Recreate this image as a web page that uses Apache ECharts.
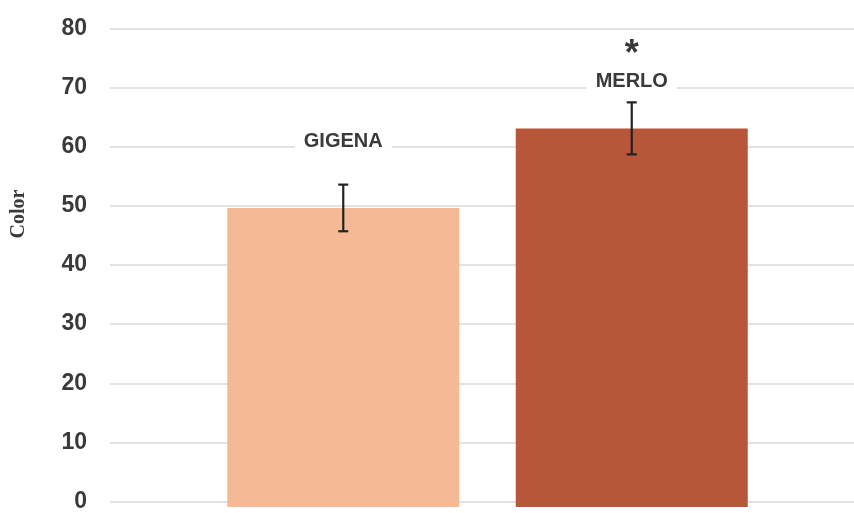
<!DOCTYPE html>
<html>
<head>
<meta charset="utf-8">
<script src="https://cdn.jsdelivr.net/npm/echarts@6/dist/echarts.min.js"></script>
<style>
  html, body { margin: 0; padding: 0; background: #ffffff; }
  #chart { width: 854px; height: 513px; }
</style>
</head>
<body>
<div id="chart"></div>
<script>
// Colour scores per site: mean and error (half-length of the whisker)
const categories = ['GIGENA', 'MERLO'];
const means = [50.0, 63.3];
const errors = [3.9, 4.35];
const significance = ['', '*'];
const yTicks = [0, 10, 20, 30, 40, 50, 60, 70, 80];
const yTitle = 'Color';

// Styling
const barColors = ['#f6b996', '#b8563a'];
const inkColor = '#3a3a3a';
const labelLift = [43, 21];   // px gap between whisker top and the site name

const yMin = yTicks[0];
const yMax = yTicks[yTicks.length - 1];
const yStep = yTicks[1] - yTicks[0];

const whiskers = categories.map((c, i) => [i, means[i] - errors[i], means[i] + errors[i]]);

const chart = echarts.init(document.getElementById('chart'), null, { renderer: 'canvas' });

const yAxisBase = { type: 'value', min: yMin, max: yMax, interval: yStep };

chart.setOption({
  backgroundColor: '#ffffff',
  animation: false,
  graphic: [
    {
      type: 'text',
      x: 19,
      y: 214,
      rotation: Math.PI / 2,
      style: {
        text: yTitle,
        align: 'center',
        verticalAlign: 'middle',
        fontFamily: 'Liberation Serif',
        fontSize: 20,
        fontWeight: 'bold',
        fill: inkColor
      }
    }
  ],
  grid: [
    // frame carrying the value axis and horizontal gridlines
    { left: 110, right: 0, top: 28.5, bottom: 6 },
    // plotting frame for the bars
    { left: 199, right: 78, top: 28.5, bottom: 6 }
  ],
  xAxis: [
    { type: 'category', gridIndex: 0, data: [''], show: false },
    { type: 'category', gridIndex: 1, data: categories, show: false }
  ],
  yAxis: [
    Object.assign({}, yAxisBase, {
      gridIndex: 0,
      axisLine: { show: false },
      axisTick: { show: false },
      axisLabel: {
        margin: 23,
        fontFamily: 'Liberation Sans',
        fontWeight: 'bold',
        fontSize: 23,
        color: inkColor,
        formatter: v => String(v)
      },
      splitLine: { show: true, lineStyle: { color: '#d9d9d9', width: 1.5 } }
    }),
    Object.assign({}, yAxisBase, { gridIndex: 1, show: false })
  ],
  series: [
    {
      type: 'bar',
      xAxisIndex: 1,
      yAxisIndex: 1,
      barWidth: 232,
      data: means.map((v, i) => ({ value: v, itemStyle: { color: barColors[i] } }))
    },
    {
      type: 'custom',
      xAxisIndex: 1,
      yAxisIndex: 1,
      data: whiskers,
      z: 10,
      renderItem: function (params, api) {
        const i = api.value(0);
        const lo = api.coord([i, api.value(1)]);
        const hi = api.coord([i, api.value(2)]);
        const cap = 5;
        const lineStyle = { stroke: '#222222', lineWidth: 2.2 };
        const nameY = hi[1] - labelLift[i];
        const children = [
          { type: 'line', shape: { x1: hi[0], y1: hi[1], x2: lo[0], y2: lo[1] }, style: lineStyle },
          { type: 'line', shape: { x1: hi[0] - cap, y1: hi[1], x2: hi[0] + cap, y2: hi[1] }, style: lineStyle },
          { type: 'line', shape: { x1: lo[0] - cap, y1: lo[1], x2: lo[0] + cap, y2: lo[1] }, style: lineStyle },
          {
            type: 'text',
            x: hi[0], y: nameY,
            style: {
              text: categories[i],
              align: 'center',
              verticalAlign: 'middle',
              fontFamily: 'Liberation Sans',
              fontWeight: 'bold',
              fontSize: 20,
              fill: inkColor,
              backgroundColor: '#ffffff',
              padding: [2, 9]
            }
          }
        ];
        if (significance[i]) {
          children.push({
            type: 'text',
            x: hi[0], y: nameY - 26,
            style: {
              text: significance[i],
              align: 'center',
              verticalAlign: 'middle',
              fontFamily: 'Liberation Sans',
              fontWeight: 'bold',
              fontSize: 36,
              fill: inkColor
            }
          });
        }
        return { type: 'group', children: children };
      }
    }
  ]
});
</script>
</body>
</html>
